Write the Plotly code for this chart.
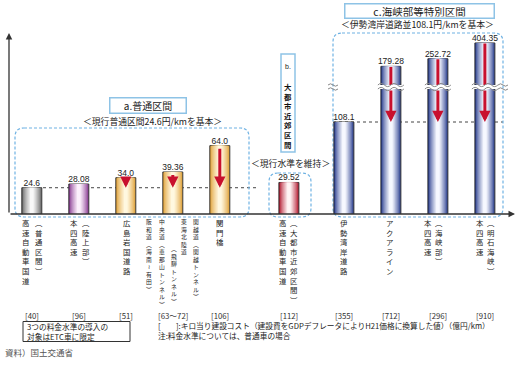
import plotly.graph_objects as go

# ---------------- data ----------------
CATEGORIES = [
    "高速自動車国道（普通区間）", "本四高速（陸上部）", "広島岩国道路",
    "関越道・東海北陸道・中央道・阪和道", "関門橋",
    "高速自動車国道（大都市近郊区間）",
    "伊勢湾岸道路", "アクアライン", "本四高速（海峡部）", "本四高速（明石海峡）",
]
SECTIONS = ["a", "a", "a", "a", "a", "b", "c", "c", "c", "c"]
TOLL_RATE = [24.6, 28.08, 34.0, 39.36, 64.0, 29.52, 108.1, 179.28, 252.72, 404.35]
BASE_A = 24.6     # 現行普通区間
BASE_C = 108.1    # 伊勢湾岸道路並
COST_LABELS = ["[40]", "[96]", "[51]", "[63〜72]", "[106]", "[112]",
               "[355]", "[712]", "[296]", "[910]"]
LABEL_COLUMNS = [
    ["高速自動車国道", "（普通区間）"],
    ["本四高速", "（陸上部）"],
    ["広島岩国道路"],
    ["阪和道（海南〜有田）", "中央道（恵那山トンネル）", "（飛騨トンネル）",
     "東海北陸道", "関越道（関越トンネル）"],
    ["関門橋"],
    ["高速自動車国道", "（大都市近郊区間）"],
    ["伊勢湾岸道路"],
    ["アクアライン"],
    ["本四高速", "（海峡部）"],
    ["本四高速", "（明石海峡）"],
]
SECTION_TITLES = {"a": "a.普通区間", "c": "c.海峡部等特別区間"}
SECTION_NOTES = {"a": "＜現行普通区間24.6円/kmを基本＞",
                 "b": "＜現行水準を維持＞",
                 "c": "＜伊勢湾岸道路並108.1円/kmを基本＞"}
B_TITLE = "大都市近郊区間"
BOX_NOTE = ["3つの料金水準の導入の", "対象はETC車に限定"]
NOTES = ["[　　]:キロ当り建設コスト（建設費をGDPデフレータによりH21価格に換算した値）（億円/km）",
         "注:料金水準については、普通車の場合"]
SOURCE = "資料）国土交通省"

# ---------------- layout / style constants ----------------
FIG_W, FIG_H = 518, 368
ML, MR, MT, MB = 9, 6, 30, 154
PW = FIG_W - ML - MR
PH = FIG_H - MT - MB
BASE_PX = FIG_H - MB
UNIT = 47.0
X0_PX = 31.8
GAP_AB, GAP_BC = 0.47, 0.17
BAR_W = 20.0 / UNIT
PX_PER_UNIT_AB = 1.068
Y1_MAX = PH / PX_PER_UNIT_AB
Y2_TOP_PX, Y3_BOT_PX = 125, 129
Y2_MAX = Y2_TOP_PX / 0.851
Y3_MAX = (PH - Y3_BOT_PX) / 0.104

JP = "Noto Sans CJK JP, sans-serif"
NUM = "Liberation Sans, Noto Sans CJK JP, sans-serif"
RED = "#c8102e"
DASH_BLUE = "#6fb2e3"
BOX_BLUE = "#8ec3e6"

BAR_STYLE = ["gray", "purple", "gold", "gold", "gold", "red", "blue", "blue", "blue", "blue"]
EDGE = {"gray": "#666666", "purple": "#86378f", "gold": "#df9f35",
        "red": "#b0122a", "blue": "#22378a"}
CENTER = {"gray": "#f8f8f8", "purple": "#fcf0fc", "gold": "#fff8e0",
          "red": "#fff5f5", "blue": "#f6f8ff"}

LABEL_OFFSETS = [[-6, 7], [-5, 7], [1], [-24, -11, 1, 11, 23], [0],
                 [-6, 5], [0], [-1], [-10, 1], [-5, 6]]
LABEL_DROP = [[0, 0], [0, 0], [0], [0, 0, 27, 0, 0], [0], [0, 0], [0], [0], [0, 0], [0, 0]]
LABEL_TOP = 216
VFORM = {"（": "︵", "）": "︶", "〜": "≀"}


def px_x(pos):
    return X0_PX + UNIT * pos


def paper_x(px):
    return (px - ML) / PW


def paper_y(py):
    return (BASE_PX - py) / PH


def blend(c1, c2, t):
    a = [int(c1[k:k + 2], 16) for k in (1, 3, 5)]
    b = [int(c2[k:k + 2], 16) for k in (1, 3, 5)]
    return "#" + "".join(f"{round(a[k] + (b[k] - a[k]) * t):02x}" for k in range(3))


def vert(s):
    return "<br>".join(VFORM.get(ch, ch) for ch in s)


def rounded_rect(x0, y0, x1, y1, r):
    X = paper_x
    Y = paper_y
    return (f"M{X(x0 + r)},{Y(y0)} L{X(x1 - r)},{Y(y0)} Q{X(x1)},{Y(y0)} {X(x1)},{Y(y0 + r)} "
            f"L{X(x1)},{Y(y1 - r)} Q{X(x1)},{Y(y1)} {X(x1 - r)},{Y(y1)} "
            f"L{X(x0 + r)},{Y(y1)} Q{X(x0)},{Y(y1)} {X(x0)},{Y(y1 - r)} "
            f"L{X(x0)},{Y(y0 + r)} Q{X(x0)},{Y(y0)} {X(x0 + r)},{Y(y0)} Z")


def wave(x0, x1, y, amp=1.6, n=4):
    seg = (x1 - x0) / n
    p = f"M{paper_x(x0)},{paper_y(y)}"
    for k in range(n):
        xa = x0 + seg * k
        s = -1 if k % 2 == 0 else 1
        p += f" Q{paper_x(xa + seg / 2)},{paper_y(y + s * amp * 2)} {paper_x(xa + seg)},{paper_y(y)}"
    return p


def ptext(cx, cy, text, size, color="#222", family=JP, xanchor="center", **kw):
    d = dict(x=paper_x(cx), y=paper_y(cy), xref="paper", yref="paper", text=text,
             showarrow=False, xanchor=xanchor, yanchor="middle",
             font=dict(size=size, family=family, color=color))
    d.update(kw)
    return d


N = len(TOLL_RATE)
pos = []
for i, s in enumerate(SECTIONS):
    p = float(i)
    if s in ("b", "c"):
        p += GAP_AB
    if s == "c":
        p += GAP_BC
    pos.append(p)

fig = go.Figure()

idx_ab = [i for i in range(N) if SECTIONS[i] in ("a", "b")]
idx_c = [i for i in range(N) if SECTIONS[i] == "c"]
idx_c_high = [i for i in idx_c if TOLL_RATE[i] > Y2_MAX]
idx_c_low = [i for i in idx_c if TOLL_RATE[i] <= Y2_MAX]

groups = [
    ("y", idx_ab, [TOLL_RATE[i] for i in idx_ab]),
    # lower part of the broken axis: bars are cut at the break
    ("y2", idx_c, [min(TOLL_RATE[i], Y2_MAX) for i in idx_c]),
    ("y3", idx_c_high, [TOLL_RATE[i] for i in idx_c_high]),
]
NL = 8
for axis, idx, vals in groups:
    for k in range(NL):
        f = 1 - 0.82 * k / (NL - 1)
        t = (k / (NL - 1)) ** 0.75
        fig.add_trace(go.Bar(
            x=[pos[i] for i in idx], y=vals,
            width=BAR_W * f, xaxis="x", yaxis=axis,
            marker=dict(color=[blend(EDGE[BAR_STYLE[i]], CENTER[BAR_STYLE[i]], t) for i in idx],
                        line=dict(color="#3a3a3a", width=1 if k == 0 else 0)),
            opacity=1, hoverinfo="skip", showlegend=False))

# value labels
for axis, idx in (("y", idx_ab), ("y2", idx_c_low), ("y3", idx_c_high)):
    fig.add_trace(go.Scatter(
        x=[pos[i] for i in idx], y=[TOLL_RATE[i] for i in idx],
        text=[str(TOLL_RATE[i]) for i in idx], mode="text",
        textposition="top center", cliponaxis=False,
        textfont=dict(size=8.5, family=NUM, color="#222"),
        xaxis="x", yaxis=axis, hoverinfo="skip", showlegend=False))

shapes = []
annotations = []

# reference dotted lines
shapes.append(dict(type="line", xref="paper", yref="y", x0=paper_x(25), x1=paper_x(258),
                   y0=BASE_A, y1=BASE_A, layer="below",
                   line=dict(color="#444", width=1, dash="dot")))
shapes.append(dict(type="line", xref="paper", yref="y2", x0=paper_x(333), x1=paper_x(503),
                   y0=BASE_C, y1=BASE_C, layer="below",
                   line=dict(color="#444", width=1, dash="dot")))

# dashed section boxes
for (x0, y0, x1, y1) in [(15, 128, 249, 217), (269, 173, 311, 217), (333, 33, 503, 217)]:
    shapes.append(dict(type="path", xref="paper", yref="paper", path=rounded_rect(x0, y0, x1, y1, 9),
                       line=dict(color=DASH_BLUE, width=1.2, dash="3px,2px"), layer="below"))

# red arrows (a section)
for i in range(N):
    if SECTIONS[i] == "a" and TOLL_RATE[i] > BASE_A:
        length_px = (TOLL_RATE[i] - BASE_A) * PX_PER_UNIT_AB
        annotations.append(dict(x=pos[i], y=BASE_A, xref="x", yref="y", ax=pos[i], ay=TOLL_RATE[i],
                                axref="x", ayref="y", text="", showarrow=True, arrowhead=2,
                                arrowsize=max(0.3, min(0.75, length_px / 13.0)), arrowwidth=3,
                                arrowcolor=RED, standoff=0, startstandoff=1.5))
# red arrows (c section, broken)
for i in idx_c_high:
    shapes.append(dict(type="line", xref="x", yref="y3", x0=pos[i], x1=pos[i],
                       y0=TOLL_RATE[i] - 5, y1=0, line=dict(color=RED, width=3)))
    annotations.append(dict(x=pos[i], y=BASE_C, xref="x", yref="y2", ax=pos[i], ay=Y2_MAX,
                            axref="x", ayref="y2", text="", showarrow=True, arrowhead=2,
                            arrowsize=0.75, arrowwidth=3, arrowcolor=RED, standoff=0))
    cx = px_x(pos[i])
    for yy in (BASE_PX - Y3_BOT_PX, BASE_PX - Y2_TOP_PX):
        shapes.append(dict(type="path", xref="paper", yref="paper",
                           path=wave(cx - 13, cx + 13, yy), line=dict(color="#888", width=1)))
# break marks at c box edges
for ex in (333, 503):
    for yy in (BASE_PX - Y3_BOT_PX, BASE_PX - Y2_TOP_PX):
        shapes.append(dict(type="path", xref="paper", yref="paper",
                           path=wave(ex - 5, ex + 5, yy, amp=1.2, n=2), line=dict(color="#888", width=1)))

# axes arrows
annotations.append(dict(x=paper_x(9), y=paper_y(33), xref="paper", yref="paper", ax=0,
                        ay=BASE_PX - 33, axref="pixel", ayref="pixel", text="", showarrow=True,
                        arrowhead=2, arrowsize=1, arrowwidth=1.3, arrowcolor="#333", standoff=0))
annotations.append(dict(x=paper_x(515), y=0, xref="paper", yref="paper", ax=-(515 - 9),
                        ay=0, axref="pixel", ayref="pixel", text="", showarrow=True,
                        arrowhead=2, arrowsize=1, arrowwidth=1.3, arrowcolor="#333", standoff=0))

# section titles
annotations.append(ptext(148, 105, SECTION_TITLES["a"], 10, bordercolor=BOX_BLUE,
                         borderwidth=1.5, borderpad=1, bgcolor="white", width=73, height=12))
annotations.append(ptext(419, 11, SECTION_TITLES["c"], 10.5, bordercolor=BOX_BLUE,
                         borderwidth=1.5, borderpad=1, bgcolor="white", width=146, height=11))
for key, (cx, cy) in {"a": (152, 121), "b": (290, 163), "c": (417, 24.5)}.items():
    annotations.append(ptext(cx, cy, SECTION_NOTES[key], 8.8))
# b title (vertical)
shapes.append(dict(type="rect", xref="paper", yref="paper", x0=paper_x(281), x1=paper_x(295),
                   y0=paper_y(54), y1=paper_y(152), line=dict(color=BOX_BLUE, width=1.5),
                   fillcolor="white"))
annotations.append(ptext(288, 66, "b.", 7, family=NUM))
annotations.append(dict(x=paper_x(288), y=paper_y(80), xref="paper", yref="paper",
                        xanchor="center", yanchor="top", text="<b>" + vert(B_TITLE) + "</b>",
                        showarrow=False, borderpad=0,
                        font=dict(size=7.4, family=JP, color="#111")))

# category labels (vertical)
for i, cols in enumerate(LABEL_COLUMNS):
    dense = len(cols) > 2
    for j, col in enumerate(cols):
        annotations.append(dict(x=pos[i], xref="x", xshift=LABEL_OFFSETS[i][j],
                                y=paper_y(LABEL_TOP + LABEL_DROP[i][j]), yref="paper",
                                yanchor="top", xanchor="center", text=vert(col),
                                showarrow=False, borderpad=0,
                                font=dict(size=5.8 if dense else 7.4, family=JP, color="#222")))
# cost labels
for i in range(N):
    annotations.append(dict(x=pos[i], xref="x", y=paper_y(315.3), yref="paper",
                            xanchor="center", yanchor="middle",
                            text=COST_LABELS[i], showarrow=False,
                            font=dict(size=7.8, family=JP, color="#333")))

# notes
shapes.append(dict(type="rect", xref="paper", yref="paper", x0=paper_x(23), x1=paper_x(130),
                   y0=paper_y(321.5), y1=paper_y(341.5), line=dict(color="#333", width=1)))
annotations.append(ptext(25, 331.5, "<br>".join(BOX_NOTE), 7.7, xanchor="left", align="left"))
annotations.append(ptext(156, 330.5, "<br>".join(NOTES), 7.7, xanchor="left", align="left"))
annotations.append(ptext(3, 352, SOURCE, 8.5, color="#555", xanchor="left"))

fig.update_layout(
    width=FIG_W, height=FIG_H,
    margin=dict(l=ML, r=MR, t=MT, b=MB, pad=0),
    paper_bgcolor="white", plot_bgcolor="rgba(0,0,0,0)",
    barmode="overlay", showlegend=False,
    xaxis=dict(domain=[0, 1], range=[(ML - X0_PX) / UNIT, (ML + PW - X0_PX) / UNIT],
               visible=False, anchor="y", fixedrange=True),
    yaxis=dict(domain=[0, 1], range=[0, Y1_MAX], visible=False, anchor="x", fixedrange=True),
    yaxis2=dict(domain=[0, Y2_TOP_PX / PH], range=[0, Y2_MAX], visible=False, anchor="x",
                fixedrange=True),
    yaxis3=dict(domain=[Y3_BOT_PX / PH, 1], range=[0, Y3_MAX], visible=False, anchor="x",
                fixedrange=True),
    shapes=shapes, annotations=annotations,
    font=dict(family=JP),
)

fig.write_html("out.html", config={"displayModeBar": False},
               post_script="document.body.style.margin='0';")
